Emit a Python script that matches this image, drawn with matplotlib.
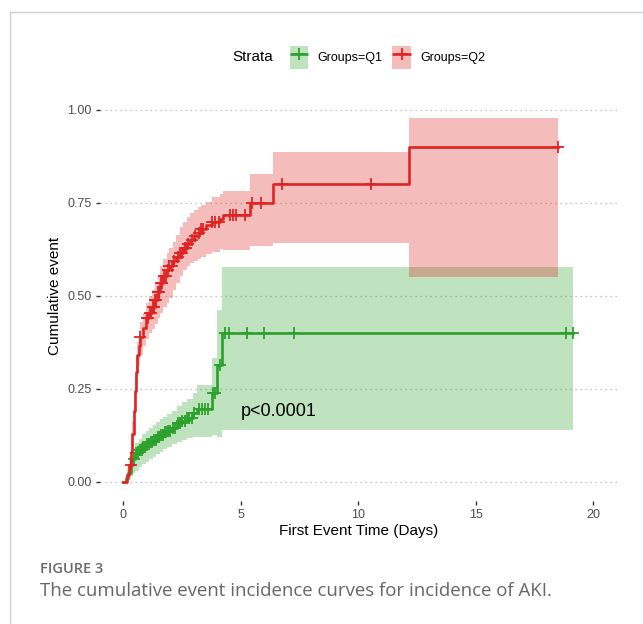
import numpy as np
import matplotlib
matplotlib.use("Agg")
import matplotlib.pyplot as plt
from matplotlib.patches import Patch
from matplotlib.lines import Line2D

plt.rcParams['font.family'] = ['Liberation Sans', 'DejaVu Sans']

# Q1 (green) cumulative event step function
q1_time = [0.00, 0.10, 0.20, 0.30, 0.40, 0.50, 0.65, 0.80, 0.95, 1.10, 1.25, 1.40,
           1.55, 1.70, 1.85, 2.05, 2.28, 2.50, 2.70, 2.95, 3.13, 3.75, 4.00, 4.19]
q1_est = [0.000, 0.010, 0.025, 0.045, 0.062, 0.078, 0.086, 0.095, 0.101, 0.108, 0.114, 0.120,
          0.127, 0.133, 0.138, 0.145, 0.158, 0.165, 0.172, 0.185, 0.196, 0.239, 0.315, 0.400]
q1_low = [0.000, 0.000, 0.005, 0.015, 0.025, 0.030, 0.040, 0.048, 0.055, 0.062, 0.068, 0.074,
          0.080, 0.088, 0.094, 0.102, 0.108, 0.114, 0.118, 0.120, 0.122, 0.127, 0.122, 0.140]
q1_up = [0.000, 0.025, 0.045, 0.070, 0.090, 0.105, 0.115, 0.128, 0.136, 0.145, 0.152, 0.160,
         0.168, 0.175, 0.182, 0.190, 0.203, 0.215, 0.222, 0.240, 0.261, 0.334, 0.462, 0.578]
q1_end = 19.12
q1_censor = [0.45, 0.55, 0.62, 0.70, 0.78, 0.85, 0.92, 1.00, 1.08, 1.15, 1.22, 1.30, 1.38,
             1.45, 1.52, 1.60, 1.68, 1.75, 1.82, 1.90, 2.00, 2.10, 2.20, 2.30, 2.40, 2.50,
             2.60, 2.70, 2.80, 2.90, 3.00, 3.20, 3.35, 3.48, 3.61, 3.80, 3.90, 4.10, 4.33,
             4.47, 5.25, 5.96, 7.26, 18.84, 19.12]

# Q2 (red)
q2_time = [0.00, 0.15, 0.25, 0.32, 0.38, 0.43, 0.48, 0.53, 0.58, 0.64, 0.72, 0.85, 0.95,
           1.10, 1.22, 1.32, 1.45, 1.57, 1.70, 1.85, 1.95, 2.10, 2.25, 2.40, 2.55, 2.70,
           2.85, 3.00, 3.15, 3.30, 3.50, 3.75, 4.12, 4.22, 5.40, 6.35, 12.16]
q2_est = [0.000, 0.020, 0.045, 0.080, 0.130, 0.190, 0.245, 0.295, 0.340, 0.365, 0.390, 0.415,
          0.440, 0.455, 0.470, 0.490, 0.510, 0.535, 0.555, 0.570, 0.580, 0.595, 0.605, 0.615,
          0.628, 0.640, 0.650, 0.660, 0.668, 0.680, 0.692, 0.700, 0.708, 0.718, 0.751, 0.800, 0.900]
q2_low = [0.000, 0.005, 0.025, 0.050, 0.095, 0.150, 0.200, 0.250, 0.290, 0.315, 0.340, 0.365,
          0.385, 0.400, 0.410, 0.425, 0.440, 0.455, 0.470, 0.480, 0.495, 0.515, 0.535, 0.555,
          0.570, 0.580, 0.588, 0.595, 0.600, 0.605, 0.612, 0.618, 0.625, 0.624, 0.635, 0.642, 0.550]
q2_up = [0.000, 0.035, 0.070, 0.110, 0.165, 0.230, 0.285, 0.335, 0.380, 0.405, 0.430, 0.455,
         0.480, 0.500, 0.515, 0.535, 0.555, 0.580, 0.600, 0.615, 0.630, 0.645, 0.665, 0.685,
         0.700, 0.712, 0.722, 0.732, 0.740, 0.745, 0.752, 0.765, 0.775, 0.782, 0.828, 0.886, 0.978]
q2_end = 18.50
q2_censor = [0.30, 0.72, 0.98, 1.05, 1.12, 1.18, 1.25, 1.30, 1.36, 1.40, 1.47, 1.52, 1.60,
             1.65, 1.72, 1.80, 1.88, 1.95, 2.05, 2.15, 2.30, 2.40, 2.50, 2.60, 2.68, 2.75,
             2.90, 3.05, 3.20, 3.30, 3.40, 3.77, 3.91, 4.05, 4.54, 4.68, 4.78, 5.18, 5.46,
             5.85, 6.74, 10.53, 18.50]

groups = [
    ("Groups=Q1", "#2ca02c", q1_time, q1_est, q1_low, q1_up, q1_end, q1_censor),
    ("Groups=Q2", "#e02424", q2_time, q2_est, q2_low, q2_up, q2_end, q2_censor),
]

fig = plt.figure(figsize=(6.43, 6.24), dpi=100)
ax = fig.add_axes([0.1555, 0.1978, 0.804, 0.6558])

handles = []
for name, col, t, est, lo, up, tend, cens in groups:
    tt = np.append(t, tend)
    ee = np.append(est, est[-1])
    ll = np.append(lo, lo[-1])
    uu = np.append(up, up[-1])
    ax.fill_between(tt, ll, uu, step='post', color=col, alpha=0.3, lw=0)
    ax.step(tt, ee, where='post', color=col, lw=1.9)
    idx = np.searchsorted(t, cens, side='right') - 1
    ax.plot(cens, np.asarray(est)[idx], ls='none', marker='+', ms=8, mew=1.3, color=col)
    handles.append((Patch(facecolor=col, alpha=0.3, lw=0),
                    Line2D([], [], color=col, lw=1.9, marker='+', ms=8, mew=1.3,
                           solid_capstyle='butt')))

ax.text(5.0, 0.19, "p<0.0001", fontsize=13, ha='left', va='center')

ax.set_xlim(-1, 21)
ax.set_ylim(-0.05, 1.05)
ax.set_xticks([0, 5, 10, 15, 20])
ax.set_yticks([0, 0.25, 0.5, 0.75, 1.0])
ax.set_yticklabels(["0.00", "0.25", "0.50", "0.75", "1.00"])
for v in [0, 0.25, 0.5, 0.75, 1.0]:
    ax.axhline(v, color='#b0b0b0', lw=0.9, ls=(0, (1, 3)), zorder=0)
for s in ax.spines.values():
    s.set_visible(False)
ax.tick_params(length=3, width=1, color='#333333', labelcolor='#4d4d4d', labelsize=9, pad=3)
ax.set_xlabel("First Event Time (Days)", fontsize=11, labelpad=2)
ax.set_ylabel("Cumulative event", fontsize=11, labelpad=4)

leg = fig.legend(handles, [g[0] for g in groups], loc='center left',
                 bbox_to_anchor=(0.433, 0.908), ncol=2, frameon=False, fontsize=9,
                 handlelength=1.5, handleheight=2.4, handletextpad=0.75, columnspacing=0.75)
fig.text(0.361, 0.908, "Strata", fontsize=11, ha='left', va='center')

# page frame and caption
fig.add_artist(Line2D([10 / 643, 10 / 643], [0, 1 - 12 / 624], transform=fig.transFigure,
                      color='#d0d0d0', lw=1))
fig.add_artist(Line2D([10 / 643, 1], [1 - 12 / 624, 1 - 12 / 624], transform=fig.transFigure,
                      color='#d0d0d0', lw=1))
fig.text(40 / 643, 1 - 569 / 624, "FIGURE 3", fontsize=10.5, color='#6a6a6a',
         family=['Open Sans', 'DejaVu Sans'], weight='semibold', ha='left', va='center')
fig.text(40 / 643, 1 - 591 / 624, "The cumulative event incidence curves for incidence of AKI.",
         fontsize=13.4, color='#666666', family=['Open Sans', 'DejaVu Sans'], ha='left', va='center')

fig.savefig("out.png", dpi=100)
